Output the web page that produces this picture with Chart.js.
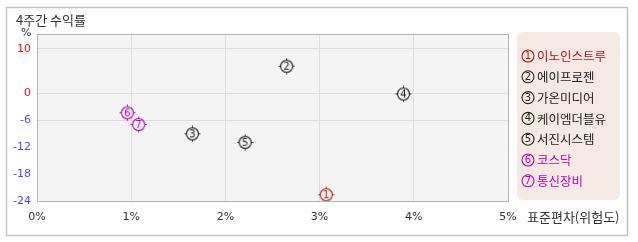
<html lang="ko">
<head>
  <meta charset="UTF-8">
  <title>4주간 수익률</title>
  <style>
    body { margin: 0; background: #fff; }
    canvas { display: block; }
  </style>
</head>
<body>
  <canvas id="myChart" width="638" height="242"></canvas>
  <script src="https://cdn.jsdelivr.net/npm/chart.js@4.4.1/dist/chart.umd.min.js"></script>
  <script>
    // values
    const names = ['이노인스트루', '에이프로젠', '가온미디어', '케이엠더블유', '서진시스템', '코스닥', '통신장비'];
    const risk = [3.07, 2.65, 1.65, 3.89, 2.21, 0.96, 1.08];     // 표준편차 %
    const returns = [-22.6, 6.1, -9.0, -0.1, -10.9, -4.3, -6.9]; // 4주간 수익률 %
    const yTicks = [10, 0, -6, -12, -18, -24];
    const yGrid = [10, 0, -6];
    const colors = ['#b01c1c', '#222', '#222', '#222', '#222', '#c000c0', '#c000c0'];

    const FONT = '"Noto Sans CJK KR", "DejaVu Sans", sans-serif';

    // circled number, used for the points and the legend
    function drawCircled(g, cx, cy, num, color, ticks) {
      g.save();
      g.strokeStyle = color;
      g.lineWidth = 1.1;
      g.beginPath();
      g.arc(cx, cy, 6, 0, Math.PI * 2);
      g.stroke();
      if (ticks) {
        g.lineWidth = 1;
        g.beginPath();
        g.moveTo(cx, cy - 8); g.lineTo(cx, cy - 6.5);
        g.moveTo(cx, cy + 6.5); g.lineTo(cx, cy + 8);
        g.moveTo(cx - 8, cy); g.lineTo(cx - 6.5, cy);
        g.moveTo(cx + 6.5, cy); g.lineTo(cx + 8, cy);
        g.stroke();
      }
      g.fillStyle = color;
      g.font = '10px "DejaVu Sans", sans-serif';
      g.textAlign = 'center';
      g.textBaseline = 'middle';
      g.fillText(String(num), cx, cy + 0.5);
      g.restore();
    }

    function makeMarker(num, color) {
      const c = document.createElement('canvas');
      c.width = 17; c.height = 17;
      drawCircled(c.getContext('2d'), 8.5, 8.5, num, color, true);
      return c;
    }
    const markers = names.map((n, i) => makeMarker(i + 1, colors[i]));

    const frame = {
      id: 'frame',
      beforeDraw(chart) {
        const g = chart.ctx, a = chart.chartArea;
        g.save();
        g.fillStyle = '#fff';
        g.fillRect(0, 0, chart.width, chart.height);
        g.strokeStyle = '#c4c4c4';
        g.lineWidth = 1.5;
        g.strokeRect(6.5, 7.5, 621, 228);
        g.fillStyle = '#f4f4f4';
        g.fillRect(a.left, a.top, a.right - a.left, a.bottom - a.top);
        g.restore();
      },
      afterDraw(chart) {
        const g = chart.ctx, a = chart.chartArea;
        g.save();
        g.strokeStyle = '#b4b4b4';
        g.lineWidth = 1;
        g.strokeRect(a.left + 0.5, a.top + 0.5, a.right - a.left, a.bottom - a.top);

        g.fillStyle = '#333';
        g.textBaseline = 'middle';
        g.font = '13px ' + FONT;
        g.fillText('4주간 수익률', 16, 20);
        g.font = '11px "DejaVu Sans", sans-serif';
        g.fillText('%', 21, 33);
        g.font = '13px ' + FONT;
        g.fillText('표준편차(위험도)', 527, 217);

        // legend box
        g.fillStyle = '#f5e9e3';
        g.beginPath();
        g.roundRect(517, 32, 103, 168, 6);
        g.fill();
        g.font = '12.5px ' + FONT;
        names.forEach((n, i) => {
          const y = 56 + i * 20.8;
          drawCircled(g, 528, y, i + 1, colors[i], false);
          g.fillStyle = colors[i];
          g.fillText(n, 537, y + 0.5);
        });
        g.restore();
      }
    };

    const ctx = document.getElementById('myChart');
    const myChart = new Chart(ctx, {
      type: 'scatter',
      data: {
        datasets: [{
          data: risk.map((x, i) => ({ x: x, y: returns[i] })),
          pointStyle: markers,
          pointRadius: 8,
          pointHoverRadius: 8
        }]
      },
      options: {
        responsive: false,
        devicePixelRatio: 1,
        animation: false,
        layout: { padding: { left: 0, top: 34, right: 130, bottom: 0 } },
        plugins: { legend: { display: false }, tooltip: { enabled: false } },
        scales: {
          x: {
            type: 'linear',
            min: 0, max: 5,
            border: { display: false },
            grid: { color: '#dcdcdc', drawTicks: false },
            ticks: {
              stepSize: 1,
              padding: 10,
              color: '#333',
              font: { size: 11, family: '"DejaVu Sans", sans-serif' },
              callback: v => v + '%'
            },
            afterFit: s => { s.height = 41; }
          },
          y: {
            type: 'linear',
            min: -24, max: 13.3,
            border: { display: false },
            afterBuildTicks: s => { s.ticks = yTicks.map(v => ({ value: v })); },
            grid: {
              drawTicks: false,
              color: c => yGrid.includes(c.tick.value) ? '#dcdcdc' : 'rgba(0,0,0,0)'
            },
            ticks: {
              padding: 6,
              color: c => c.tick.value >= 0 ? '#ee1111' : '#4a4af0',
              font: { size: 11, family: '"DejaVu Sans", sans-serif' }
            },
            afterFit: s => { s.width = 37; }
          }
        }
      },
      plugins: [frame]
    });
  </script>
</body>
</html>
